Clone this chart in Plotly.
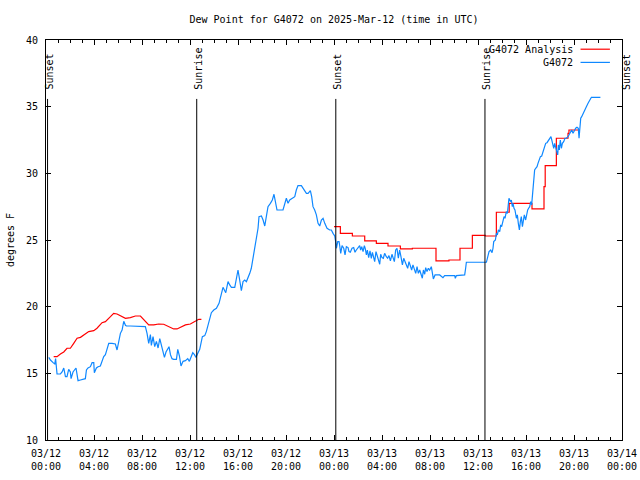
import pandas as pd
import plotly.graph_objects as go

BASE = pd.Timestamp("2025-03-12 00:00")
SPAN_HOURS = 48

# ---- data (hours after 2025-03-12 00:00 UTC, degrees F) ----
obs_hours = [
    0.23, 0.37, 0.59, 0.73, 0.80, 0.92, 1.20, 1.34, 1.48, 1.62, 1.75, 1.89, 2.03, 2.09, 2.25, 2.39,
    2.50, 2.59, 2.67, 2.87, 3.14, 3.28, 3.37, 3.50, 3.70, 3.84, 3.98, 4.03, 4.20, 4.34, 4.53, 4.67,
    4.81, 4.95, 5.09, 5.23, 5.50, 5.78, 5.92, 6.06, 6.20, 6.34, 6.48, 6.62, 6.70, 7.03, 8.14, 8.28,
    8.42, 8.56, 8.70, 8.78, 8.92, 9.06, 9.20, 9.34, 9.48, 9.62, 9.75, 9.87, 10.00, 10.14, 10.25,
    10.37, 10.50, 10.64, 10.87, 10.98, 11.12, 11.25, 11.42, 11.62, 11.81, 11.95, 12.09, 12.23,
    12.37, 12.50, 12.67, 12.81, 13.03, 13.23, 13.36, 13.50, 13.64, 13.78, 13.98, 14.20, 14.42,
    14.61, 14.75, 14.98, 15.17, 15.31, 15.45, 15.73, 15.86, 16.00, 16.14, 16.28, 16.42, 16.56,
    16.70, 16.84, 16.98, 17.11, 17.25, 17.39, 17.53, 17.67, 17.75, 17.95, 18.09, 18.23, 18.36,
    18.50, 18.70, 18.86, 19.00, 19.14, 19.25, 19.75, 19.89, 20.03, 20.17, 20.31, 20.53, 20.73,
    20.86, 21.00, 21.28, 21.48, 21.70, 21.84, 22.03, 22.14, 22.25, 22.39, 22.53, 22.67, 22.81,
    22.95, 23.09, 23.23, 23.42, 23.64, 23.78, 23.92, 24.06, 24.14, 24.20, 24.31, 24.42, 24.48,
    24.56, 24.67, 24.81, 24.92, 25.03, 25.17, 25.25, 25.36, 25.50, 25.64, 25.75, 25.86, 26.00,
    26.14, 26.22, 26.31, 26.42, 26.53, 26.61, 26.70, 26.78, 26.89, 27.00, 27.11, 27.20, 27.28,
    27.39, 27.50, 27.61, 27.72, 27.81, 27.89, 28.00, 28.11, 28.22, 28.36, 28.47, 28.58, 28.70,
    28.83, 28.92, 29.03, 29.14, 29.25, 29.36, 29.47, 29.58, 29.70, 29.81, 29.92, 30.03, 30.14,
    30.25, 30.36, 30.47, 30.58, 30.70, 30.81, 30.92, 31.03, 31.14, 31.25, 31.36, 31.45, 31.56,
    31.64, 31.75, 31.86, 31.97, 32.11, 32.20, 32.28, 32.42, 32.81, 33.08, 33.22, 34.06, 34.11,
    34.20, 34.89, 34.97, 35.03, 36.70, 36.83, 36.92, 37.06, 37.17, 37.25, 37.31, 37.45, 37.53,
    37.61, 37.70, 37.81, 37.89, 37.97, 38.08, 38.17, 38.25, 38.36, 38.45, 38.53, 38.58, 38.70,
    38.78, 38.86, 38.92, 39.00, 39.08, 39.20, 39.28, 39.36, 39.45, 39.53, 39.61, 39.70, 39.78,
    39.86, 39.97, 40.06, 40.14, 40.22, 40.31, 40.39, 40.47, 40.53, 40.58, 40.64, 40.72, 40.81,
    40.92, 41.00, 41.08, 41.20, 41.31, 41.42, 41.53, 41.64, 41.75, 41.86, 41.97, 42.08, 42.20,
    42.31, 42.39, 42.47, 42.56, 42.64, 42.70, 42.78, 42.86, 42.95, 43.03, 43.14, 43.25, 43.36,
    43.50, 43.64, 43.70, 43.81, 43.92, 44.03, 44.14, 44.25, 44.36, 44.42, 44.47, 44.56, 44.64,
    44.75, 44.89, 45.03, 45.17, 45.31, 45.45, 45.58, 46.20,
]
obs_values = [
    16.2, 16.0, 15.8, 15.7, 16.1, 14.95, 14.95, 15.1, 15.4, 14.75, 14.75, 15.3, 15.1, 14.6, 15.1, 15.3,
    15.4, 14.9, 14.45, 14.5, 14.55, 14.6, 15.25, 15.4, 15.5, 15.8, 15.8, 15.05, 15.4, 15.5, 15.55, 15.95,
    16.25, 16.4, 16.75, 17.25, 17.25, 17.2, 16.75, 17.5, 18.0, 18.25, 18.9, 18.6, 18.55, 18.55, 18.55, 18.5,
    18.0, 17.25, 17.9, 17.1, 17.75, 17.0, 17.4, 16.9, 17.6, 17.1, 16.75, 16.2, 16.6, 16.9, 17.0,
    16.4, 16.1, 16.05, 16.05, 16.8, 16.3, 15.55, 15.9, 15.95, 16.1, 15.9, 16.3, 16.55,
    16.4, 16.2, 16.55, 16.8, 17.75, 17.83, 18.13, 18.63, 19.25, 19.55, 19.75, 19.88, 20.25,
    21.0, 21.45, 21.05, 21.88, 21.63, 21.45, 21.45, 22.13, 22.75, 22.0, 21.2, 21.88, 22.0,
    21.88, 22.13, 22.5, 22.88, 23.63, 24.25, 25.0, 25.88, 26.75, 26.8, 26.5, 26.05, 26.75,
    27.5, 27.75, 28.0, 28.43, 27.75, 27.25, 27.25, 27.75, 28.13, 27.75, 28.0, 28.13, 28.25,
    28.75, 29.08, 29.08, 28.8, 28.5, 28.5, 28.7, 28.25, 27.5, 27.25, 26.88, 26.25, 26.05,
    26.5, 26.63, 26.25, 25.88, 25.75, 25.75, 25.5, 25.3, 24.88, 24.38, 24.88, 24.88, 24.55,
    24.0, 24.58, 24.38, 23.88, 24.5, 24.43, 24.13, 24.08, 24.38, 24.43, 24.08, 24.25, 24.38,
    24.58, 24.25, 24.5, 24.13, 24.58, 24.33, 23.88, 24.25, 23.68, 24.18, 23.63, 24.08, 23.75,
    23.38, 24.13, 23.75, 23.5, 23.18, 23.93, 23.68, 23.63, 24.0, 23.75, 23.63, 23.83, 23.43,
    23.93, 23.63, 23.38, 24.25, 24.38, 23.63, 24.25, 23.75, 23.13, 23.63, 23.38, 23.25, 22.88,
    23.38, 23.0, 22.75, 23.13, 22.83, 22.5, 23.0, 22.5, 22.75, 22.43, 22.13, 22.75, 22.43,
    22.93, 22.63, 22.88, 22.75, 23.0, 22.58, 22.08, 22.38, 22.38, 22.18, 22.33, 22.33, 22.13,
    22.33, 22.38, 22.88, 23.33, 23.33, 23.75, 24.13, 24.25, 24.05, 24.38, 24.88, 25.0, 25.5,
    25.38, 25.75, 25.63, 26.13, 26.0, 26.38, 26.75, 26.63, 27.13, 27.0, 27.63, 28.13, 27.88,
    28.0, 27.5, 27.75, 27.38, 27.25, 26.63, 26.88, 26.25, 25.75, 26.38, 26.75, 26.0, 26.38,
    26.88, 26.5, 27.0, 27.25, 27.38, 27.5, 27.88, 27.63, 28.25, 29.0, 29.55, 30.25, 30.38,
    30.5, 30.75, 31.0, 31.25, 31.3, 31.63, 32.0, 32.25, 32.3, 32.45, 32.5, 32.75, 32.3,
    31.88, 32.25, 32.0, 31.63, 31.38, 32.13, 31.75, 32.5, 31.88, 32.25, 32.38, 32.63, 32.63,
    32.75, 33.0, 33.13, 33.25, 33.0, 33.25, 33.38, 33.45, 33.38, 32.63, 33.38, 34.13, 34.25,
    34.5, 34.7, 35.0, 35.25, 35.5, 35.7, 35.7, 35.7,
]

# Analysis, first night (smooth)
ana1_hours = [0.64, 0.92, 1.20, 1.48, 1.75, 2.03, 2.31, 2.59, 2.87, 3.14, 3.56, 3.98, 4.25, 4.67,
              4.95, 5.37, 5.64, 5.92, 6.20, 6.62, 7.03, 7.45, 7.87, 8.14, 8.56, 8.98, 9.39, 9.81,
              10.23, 10.64, 10.92, 11.20, 11.62, 12.03, 12.45, 12.73, 12.95]
ana1_values = [16.25, 16.25, 16.45, 16.6, 16.88, 16.88, 17.25, 17.63, 17.7, 17.88, 18.13, 18.2,
               18.38, 18.8, 18.88, 19.25, 19.5, 19.45, 19.3, 19.13, 19.18, 19.3, 19.3, 19.05,
               18.63, 18.63, 18.7, 18.68, 18.5, 18.33, 18.33, 18.45, 18.63, 18.7, 18.95, 19.05, 19.05]

# Analysis, second night (hourly steps)
ana2_hours = [24.0, 24.53, 25.53, 26.56, 27.53, 28.5, 29.53, 30.53, 32.5, 33.58, 34.5, 35.53,
              36.6, 37.53, 38.6, 40.5, 41.5, 41.6, 42.53, 43.5, 43.58, 44.5]
ana2_values = [26.0, 25.5, 25.3, 24.93, 24.75, 24.55, 24.33, 24.38, 23.43, 23.5, 24.38, 25.35,
               25.3, 27.08, 27.75, 27.33, 29.0, 30.58, 32.63, 33.0, 33.25, 33.25]

sun_event_hours = [0.13, 12.56, 24.15, 36.58, 48.08]
sun_event_labels = ["Sunset", "Sunrise", "Sunset", "Sunrise", "Sunset"]

series_names = ["G4072 Analysis", "G4072"]
series_colors = ["#ff0000", "#0f88ff"]

FONT = "DejaVu Sans Mono"


def to_time(hours):
    return [BASE + pd.Timedelta(hours=h) for h in hours]


END = BASE + pd.Timedelta(hours=SPAN_HOURS)

fig = go.Figure()
fig.add_trace(go.Scatter(x=to_time(ana1_hours), y=ana1_values, mode="lines",
                         name=series_names[0], legendgroup="ana", showlegend=False,
                         line=dict(color=series_colors[0], width=1.2)))
fig.add_trace(go.Scatter(x=to_time(ana2_hours), y=ana2_values, mode="lines",
                         name=series_names[0], legendgroup="ana", showlegend=False,
                         line=dict(color=series_colors[0], width=1.2, shape="hv")))
fig.add_trace(go.Scatter(x=to_time(obs_hours), y=obs_values, mode="lines",
                         name=series_names[1], showlegend=False,
                         line=dict(color=series_colors[1], width=1.2)))

# Sunrise / sunset markers
for h, lab in zip(sun_event_hours, sun_event_labels):
    t = BASE + pd.Timedelta(hours=h)
    fig.add_shape(type="line", xref="x", yref="y", x0=t, x1=t, y0=10, y1=35.58,
                  line=dict(color="black", width=1))
    inside = h <= SPAN_HOURS
    fig.add_annotation(x=t if inside else END, y=36.1, xref="x", yref="y", text=lab,
                       textangle=-90, showarrow=False, xanchor="center", yanchor="bottom",
                       xshift=1 if inside else 4,
                       font=dict(family=FONT, size=10, color="black"))

# Legend (gnuplot style: label, then line sample on the right)
legend_rows = [0.977, 0.944]
for name, color, yy in zip(series_names, series_colors, legend_rows):
    fig.add_annotation(x=0.918, y=yy, xref="paper", yref="paper", text=name, showarrow=False,
                       xanchor="right", yanchor="middle",
                       font=dict(family=FONT, size=10, color="black"))
    fig.add_shape(type="line", xref="paper", yref="paper", x0=0.928, x1=0.979, y0=yy, y1=yy,
                  line=dict(color=color, width=1.2))

fig.update_layout(
    width=640, height=480,
    margin=dict(l=46, r=18, t=40, b=40),
    paper_bgcolor="white", plot_bgcolor="white",
    font=dict(family=FONT, size=10, color="black"),
    title=dict(text="Dew Point for G4072 on 2025-Mar-12 (time in UTC)", x=0.5, xref="paper",
               xanchor="center", y=0.96, yref="container", yanchor="middle",
               font=dict(family=FONT, size=10, color="black"), automargin=False),
    showlegend=False,
)
fig.update_xaxes(
    type="date",
    range=[BASE, END],
    tick0=BASE, dtick=4 * 3600 * 1000, tickformat="%m/%d<br>%H:%M",
    ticks="inside", ticklen=5, tickcolor="black", ticklabelstandoff=4,
    minor=dict(ticks="inside", ticklen=3, dtick=3600 * 1000, tickcolor="black", showgrid=False),
    showline=True, linecolor="black", linewidth=1, mirror="ticks",
    showgrid=False, zeroline=False, automargin=False,
    tickfont=dict(family=FONT, size=10, color="black"),
)
fig.update_yaxes(
    range=[10, 40], dtick=5, tick0=10,
    ticks="inside", ticklen=5, tickcolor="black", ticklabelstandoff=5,
    showline=True, linecolor="black", linewidth=1, mirror="ticks",
    showgrid=False, zeroline=False,
    tickfont=dict(family=FONT, size=10, color="black"),
    title=dict(text="degrees F", standoff=9, font=dict(family=FONT, size=10, color="black")),
    automargin=False,
)

fig.write_html("out.html", config={"displayModeBar": False},
               post_script="document.body.style.margin='0';document.body.style.overflow='hidden';")
